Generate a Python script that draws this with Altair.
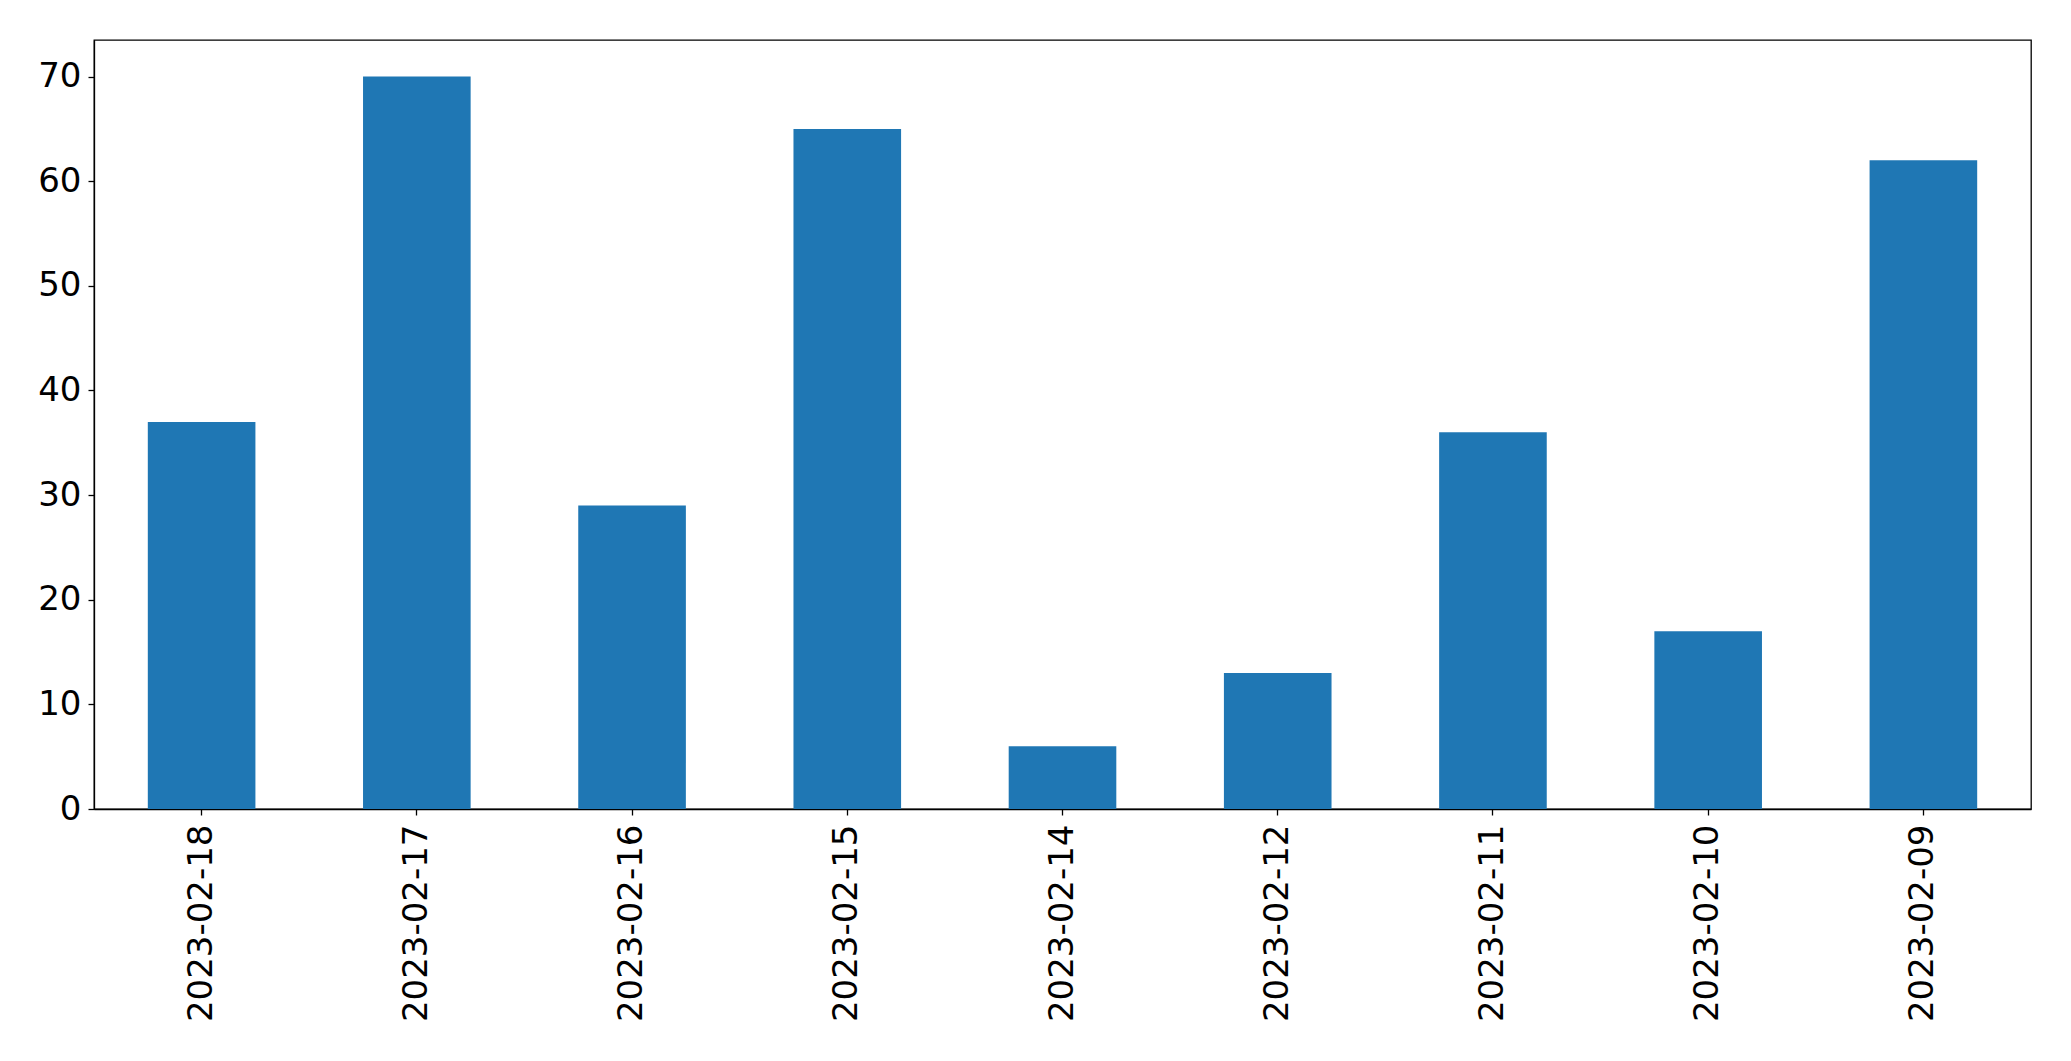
import altair as alt
import pandas as pd

dates = ["2023-02-18", "2023-02-17", "2023-02-16", "2023-02-15", "2023-02-14",
         "2023-02-12", "2023-02-11", "2023-02-10", "2023-02-09"]
counts = [37, 70, 29, 65, 6, 13, 36, 17, 62]
y_ticks = [0, 10, 20, 30, 40, 50, 60, 70]

df = pd.DataFrame({"date": dates, "count": counts})

chart = alt.Chart(df).mark_bar(color="#1f77b4").encode(
    x=alt.X("date:N", sort=dates, title=None,
            scale=alt.Scale(paddingInner=0.5, paddingOuter=0.25),
            axis=alt.Axis(labelAngle=-90, labelPadding=9, tickSize=6, labelLimit=0,
                          labelFontSize=34, labelFont="DejaVu Sans",
                          labelColor="black", domainColor="black",
                          tickColor="black", domainWidth=1.3, tickWidth=1.3)),
    y=alt.Y("count:Q", title=None,
            scale=alt.Scale(domain=[0, 73.5], nice=False),
            axis=alt.Axis(values=y_ticks, grid=False, labelPadding=7, tickSize=6,
                          labelFontSize=34, labelFont="DejaVu Sans",
                          labelColor="black", domainColor="black",
                          tickColor="black", domainWidth=1.3, tickWidth=1.3)),
).properties(
    width=1937, height=769,
    autosize=alt.AutoSizeParams(type="none"),
    padding={"left": 86, "top": 32, "right": 30, "bottom": 240},
).configure_view(stroke="black", strokeWidth=1.3)

chart.save("out.html", embed_options={"renderer": "svg", "actions": False})
